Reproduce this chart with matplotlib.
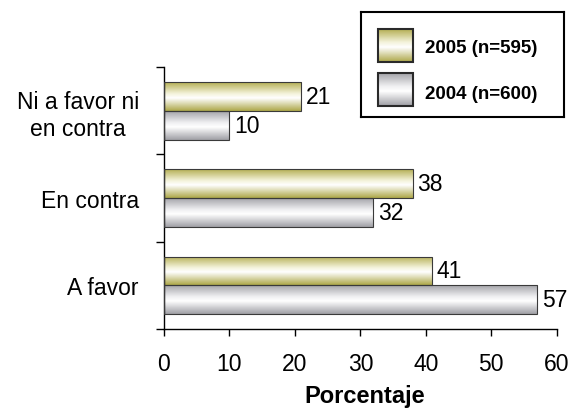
import numpy as np
import matplotlib.pyplot as plt
import matplotlib as mpl
from matplotlib.colors import LinearSegmentedColormap

categories = ['A favor', 'En contra', 'Ni a favor ni\nen contra']
values_2005 = [41, 38, 21]
values_2004 = [57, 32, 10]
series_labels = ['2005 (n=595)', '2004 (n=600)']
xticks = [0, 10, 20, 30, 40, 50, 60]

mpl.rc('font', family=['Liberation Sans', 'DejaVu Sans'], size=16.5)

# vertical "cylinder" shading: dark at edges, white near the middle
olive = LinearSegmentedColormap.from_list(
    'olive', [(0, '#aea84a'), (0.45, '#ffffff'), (0.6, '#f4f3dc'), (1, '#b5af55')])
grey = LinearSegmentedColormap.from_list(
    'grey', [(0, '#a0a0a6'), (0.45, '#ffffff'), (0.6, '#f0f0f2'), (1, '#a5a5aa')])
grad = np.linspace(0, 1, 64).reshape(-1, 1)


def shade(ax, rect, cmap):
    x, y = rect.get_x(), rect.get_y()
    w, h = rect.get_width(), rect.get_height()
    im = ax.imshow(grad, cmap=cmap, aspect='auto', extent=(x, x + w, y + h, y),
                   origin='upper', zorder=rect.get_zorder() - 0.5)
    im.set_clip_path(rect)


fig = plt.figure(figsize=(5.74, 4.10), dpi=100)
ax = fig.add_axes([0.2857, 0.195, 0.6843, 0.639])

pos = np.arange(len(categories))
h = 0.33
bars05 = ax.barh(pos + h / 2, values_2005, height=h, facecolor='none',
                 edgecolor='#3a3a3a', linewidth=0.8, zorder=3)
bars04 = ax.barh(pos - h / 2, values_2004, height=h, facecolor='none',
                 edgecolor='#3a3a3a', linewidth=0.8, zorder=3)
for r in bars05:
    shade(ax, r, olive)
for r in bars04:
    shade(ax, r, grey)

for r, v in zip(bars05, values_2005):
    ax.text(v + 0.7, r.get_y() + r.get_height() / 2, str(v), va='center', ha='left')
for r, v in zip(bars04, values_2004):
    ax.text(v + 0.7, r.get_y() + r.get_height() / 2, str(v), va='center', ha='left')

ax.set_xlim(0, 60)
ax.set_ylim(-0.5, 2.5)
ax.set_xticks(xticks)
ax.set_yticks(pos)
ax.set_yticklabels(categories, multialignment='center')
ax.set_yticks(np.arange(-0.5, 3.0, 1.0), minor=True)
ax.tick_params(axis='y', which='major', length=0, pad=18)
ax.tick_params(axis='y', which='minor', length=6, width=1, direction='out')
ax.tick_params(axis='x', length=5, width=1, direction='out', pad=11.5)
for s in ['top', 'right']:
    ax.spines[s].set_visible(False)
for s in ['left', 'bottom']:
    ax.spines[s].set_linewidth(1)
ax.set_xlabel('Porcentaje', fontweight='bold', fontsize=17)
ax.xaxis.set_label_coords(0.511, -0.21)

# legend box drawn by hand
lax = fig.add_axes([0.629, 0.712, 0.354, 0.256])
lax.set_xticks([])
lax.set_yticks([])
for s in lax.spines.values():
    s.set_linewidth(1.5)
for ys, yt, cmap, lab in [(0.686, 0.667, olive, series_labels[0]),
                          (0.267, 0.229, grey, series_labels[1])]:
    rect = mpl.patches.Rectangle((0.085, ys - 0.157), 0.17, 0.314, facecolor='none',
                                 edgecolor='#2a2a2a', linewidth=1.5, zorder=3)
    lax.add_patch(rect)
    shade(lax, rect, cmap)
    lax.text(0.317, yt, lab, fontsize=13.5, fontweight='bold', va='center', ha='left')
lax.set_xlim(0, 1)
lax.set_ylim(0, 1)

fig.savefig('out.png', dpi=100)
